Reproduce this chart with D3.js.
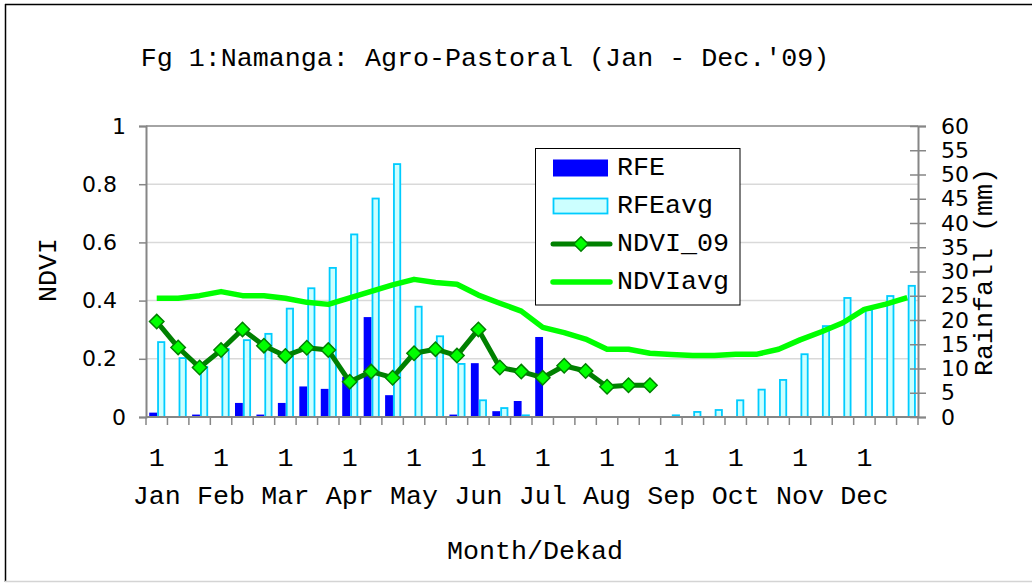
<!DOCTYPE html>
<html><head><meta charset="utf-8">
<script src="https://cdn.jsdelivr.net/npm/d3@7"></script>
<style>body{margin:0;background:#fff}</style>
</head><body>
<svg id="c" width="1032" height="583"></svg>
<script>
// ---- data ----
const categories = [
 "Jan-1","Jan-2","Jan-3","Feb-1","Feb-2","Feb-3","Mar-1","Mar-2","Mar-3",
 "Apr-1","Apr-2","Apr-3","May-1","May-2","May-3","Jun-1","Jun-2","Jun-3",
 "Jul-1","Jul-2","Jul-3","Aug-1","Aug-2","Aug-3","Sep-1","Sep-2","Sep-3",
 "Oct-1","Oct-2","Oct-3","Nov-1","Nov-2","Nov-3","Dec-1","Dec-2","Dec-3"];
const monthLabels = ["Jan","Feb","Mar","Apr","May","Jun","Jul","Aug","Sep","Oct","Nov","Dec"];
const dekadLabel = "1";
const rfe = [0.9,0,0.5,0,2.9,0.5,2.9,6.3,5.8,8.3,20.6,4.5,
             0,0,0.5,11.1,1.2,3.3,16.5,0,0,0,0,0,
             0,0,0,0,0,0,0,0,0,0,0,0];
const rfeAvg = [15.6,12.3,10.5,14.2,16.0,17.3,22.5,26.7,30.9,37.8,45.2,52.3,
                22.9,16.8,11.1,3.6,2.0,0.5,0,0,0,0,0,0,
                0.5,1.2,1.6,3.6,5.8,7.8,13.1,18.9,24.7,22.2,25.1,27.2];
const ndvi09 = [0.328,0.239,0.170,0.230,0.301,0.245,0.210,0.238,0.230,0.121,0.156,0.135,
                0.219,0.233,0.211,0.301,0.170,0.156,0.135,0.176,0.158,0.104,0.109,0.109];
const ndviAvg = [0.408,0.408,0.417,0.431,0.417,0.417,0.408,0.394,0.387,0.409,0.432,0.454,
                 0.473,0.462,0.456,0.419,0.391,0.364,0.308,0.290,0.268,0.233,0.233,0.219,
                 0.215,0.211,0.211,0.216,0.216,0.233,0.265,0.293,0.324,0.370,0.388,0.410];
const ndviTicks = [0,0.2,0.4,0.6,0.8,1];
const rainTicks = [0,5,10,15,20,25,30,35,40,45,50,55,60];
const seriesNames = ["RFE","RFEavg","NDVI_09","NDVIavg"];

// ---- layout ----
const svg = d3.select("#c");
const L = 146, R = 918, T = 126, B = 417;
const mono = "'Courier New','Liberation Mono',monospace";
const num = "'DejaVu Sans',sans-serif";
const fs = 26.7;
const gridC = "#d9d9d9", axisC = "#868686";

const x = d3.scaleBand().domain(categories).range([L, R]).padding(0);
const bw = x.bandwidth();
const sub = d3.scaleBand().domain(["RFE","RFEavg"]).range([0.15*bw, 0.88*bw]).padding(0);
const yL = d3.scaleLinear().domain([0,1]).range([B, T]);
const yR = d3.scaleLinear().domain([0,60]).range([B, T]);

// outer frame
svg.append("line").attr("x1",5).attr("x2",1032).attr("y1",4.5).attr("y2",4.5).attr("stroke","#000").attr("stroke-width",1.5);
svg.append("line").attr("x1",5.5).attr("x2",5.5).attr("y1",4).attr("y2",582).attr("stroke","#000").attr("stroke-width",1.5);
svg.append("line").attr("x1",5).attr("x2",1032).attr("y1",581.5).attr("y2",581.5).attr("stroke","#d4d4d4").attr("stroke-width",1.5);

// title
svg.append("text").attr("x",485).attr("y",66).attr("text-anchor","middle")
  .attr("font-family",mono).attr("font-size",fs).text("Fg 1:Namanga: Agro-Pastoral (Jan - Dec.'09)");

// gridlines
svg.append("g").selectAll("line").data(ndviTicks.filter(d=>d>0 && d<1)).join("line")
  .attr("x1",L).attr("x2",R).attr("y1",d=>yL(d)).attr("y2",d=>yL(d))
  .attr("stroke",gridC).attr("stroke-width",1.5);

// bars
const bars = svg.append("g");
bars.selectAll("rect.rfe").data(rfe).join("rect").attr("class","rfe")
  .attr("x",(d,i)=>x(categories[i])+sub("RFE"))
  .attr("width",sub.bandwidth())
  .attr("y",d=>yR(d)).attr("height",d=>B-yR(d))
  .attr("fill","#0000ff");
bars.selectAll("rect.avg").data(rfeAvg).join("rect").attr("class","avg")
  .attr("x",(d,i)=>x(categories[i])+sub("RFEavg")+1)
  .attr("width",sub.bandwidth()-1.5)
  .attr("y",d=>yR(d)+0.75).attr("height",d=>Math.max(0,B-yR(d)-0.75))
  .attr("fill","#ccffff").attr("stroke","#00ccff").attr("stroke-width",1.8)
  .attr("display",d=>d>0?null:"none");

const cx = i => x(categories[i]) + bw/2;
// NDVI avg line
svg.append("path").datum(ndviAvg)
  .attr("d",d3.line().x((d,i)=>cx(i)).y(d=>yL(d)))
  .attr("fill","none").attr("stroke","#00ff00").attr("stroke-width",5.5).attr("stroke-linejoin","round");
// NDVI 09 line
svg.append("path").datum(ndvi09)
  .attr("d",d3.line().x((d,i)=>cx(i)).y(d=>yL(d)))
  .attr("fill","none").attr("stroke","#008000").attr("stroke-width",5).attr("stroke-linejoin","round");
const diamond = s => `M0,${-s}L${s},0L0,${s}L${-s},0Z`;
svg.append("g").selectAll("path").data(ndvi09).join("path")
  .attr("transform",(d,i)=>`translate(${cx(i)},${yL(d)})`)
  .attr("d",diamond(7.2))
  .attr("fill","#00ff00").attr("stroke","#008000").attr("stroke-width",1.5);

// plot frame (top + right)
svg.append("line").attr("x1",L).attr("x2",R).attr("y1",T).attr("y2",T).attr("stroke",axisC).attr("stroke-width",1.5);

// left axis
const axL = svg.append("g").attr("transform",`translate(${L},0)`)
  .call(d3.axisLeft(yL).tickValues(ndviTicks).tickSize(7).tickPadding(20)
    .tickFormat(d => (d===0||d===1) ? String(d) : d.toFixed(1)));
axL.select(".domain").attr("stroke",axisC).attr("stroke-width",2);
axL.selectAll(".tick line").attr("stroke",axisC).attr("stroke-width",1.5);
axL.selectAll(".tick text").attr("font-family",num).attr("font-size",22).attr("fill","#000")
  .attr("x",d => (d===0||d===1) ? -20 : -29);

// right axis
const axR = svg.append("g").attr("transform",`translate(${R},0)`)
  .call(d3.axisRight(yR).tickValues(rainTicks).tickSize(8).tickPadding(15).tickFormat(d3.format("d")));
axR.select(".domain").attr("stroke",axisC).attr("stroke-width",2);
axR.selectAll(".tick line").attr("stroke",axisC).attr("stroke-width",1.5).attr("x1",-8);
axR.selectAll(".tick text").attr("font-family",num).attr("font-size",22).attr("fill","#000");

// bottom axis
const axB = svg.append("g");
axB.append("line").attr("x1",L).attr("x2",R).attr("y1",B).attr("y2",B).attr("stroke",axisC).attr("stroke-width",2);
axB.selectAll("line.t").data(categories.map(c=>x(c)).concat([R])).join("line").attr("class","t")
  .attr("x1",d=>d).attr("x2",d=>d).attr("y1",B).attr("y2",B+8).attr("stroke",axisC).attr("stroke-width",1.5);
axB.selectAll("text.d").data(monthLabels).join("text").attr("class","d")
  .attr("x",(m,i)=>cx(i*3)).attr("y",466).attr("text-anchor","middle")
  .attr("font-family",mono).attr("font-size",fs).text(dekadLabel);
axB.selectAll("text.m").data(monthLabels).join("text").attr("class","m")
  .attr("x",(m,i)=>cx(i*3)).attr("y",504).attr("text-anchor","middle")
  .attr("font-family",mono).attr("font-size",fs).text(m=>m);

// axis titles
svg.append("text").attr("x",535).attr("y",559).attr("text-anchor","middle")
  .attr("font-family",mono).attr("font-size",fs).text("Month/Dekad");
svg.append("text").attr("transform","translate(56,270) rotate(-90)").attr("text-anchor","middle")
  .attr("font-family",mono).attr("font-size",fs).text("NDVI");
svg.append("text").attr("transform","translate(992,272) rotate(-90)").attr("text-anchor","middle")
  .attr("font-family",mono).attr("font-size",fs).text("Rainfall (mm)");

// legend
const lg = svg.append("g");
lg.append("rect").attr("x",535.5).attr("y",148.5).attr("width",204.5).attr("height",156.5)
  .attr("fill","#fff").attr("stroke","#000").attr("stroke-width",1);
const rowY = [168, 206, 244, 282];
lg.append("rect").attr("x",553).attr("y",rowY[0]-8.5).attr("width",55).attr("height",17).attr("fill","#0000ff");
lg.append("rect").attr("x",553.5).attr("y",rowY[1]-7.5).attr("width",54).attr("height",15)
  .attr("fill","#ccffff").attr("stroke","#00ccff").attr("stroke-width",1.8);
lg.append("line").attr("x1",553).attr("x2",610).attr("y1",rowY[2]).attr("y2",rowY[2])
  .attr("stroke","#008000").attr("stroke-width",5).attr("stroke-linecap","round");
lg.append("path").attr("transform",`translate(581,${rowY[2]})`).attr("d",diamond(7.2))
  .attr("fill","#00ff00").attr("stroke","#008000").attr("stroke-width",1.5);
lg.append("line").attr("x1",553).attr("x2",610).attr("y1",rowY[3]).attr("y2",rowY[3])
  .attr("stroke","#00ff00").attr("stroke-width",5.5).attr("stroke-linecap","round");
lg.selectAll("text").data(seriesNames).join("text")
  .attr("x",617).attr("y",(d,i)=>rowY[i]+7).attr("font-family",mono).attr("font-size",fs).text(d=>d);
</script>
</body></html>
